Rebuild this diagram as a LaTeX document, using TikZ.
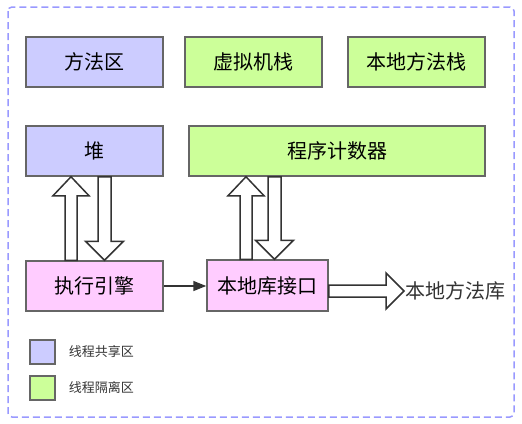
\documentclass[tikz,border=0pt]{standalone}
\usepackage{fontspec}
\setmainfont{Noto Sans CJK SC}
\usetikzlibrary{positioning,arrows.meta}

\definecolor{shared}{HTML}{CCCCFF}
\definecolor{isolated}{HTML}{CCFF99}
\definecolor{engine}{HTML}{FFCCFF}
\definecolor{frame}{HTML}{9999FF}
\definecolor{edge}{HTML}{666666}
\definecolor{ink}{HTML}{333333}

\tikzset{
  area/.style={draw=edge, line width=1.5pt, minimum height=50pt, inner sep=0pt,
    font=\fontsize{20}{22}\selectfont},
  hollow/.style={draw=ink, line width=1.5pt, fill=white, line join=miter},
  swatch/.style={draw=edge, line width=1.5pt, minimum width=25pt, minimum height=24pt, inner sep=0pt},
  note/.style={anchor=west, text=ink, inner sep=0pt, font=\fontsize{13}{15}\selectfont},
}

% hollow arrows: x (or y), tail, tip
\newcommand{\hollowup}[3]{%
  \draw[hollow] (#1-6,0 |- #2) -- ([yshift=-19pt]#1-6,0 |- #3)
    -- ([yshift=-19pt]#1-18,0 |- #3) -- (#1,0 |- #3)
    -- ([yshift=-19pt]#1+18,0 |- #3) -- ([yshift=-19pt]#1+6,0 |- #3)
    -- (#1+6,0 |- #2) -- cycle;}
\newcommand{\hollowdown}[3]{%
  \draw[hollow] (#1-6.5,0 |- #2) -- ([yshift=19pt]#1-6.5,0 |- #3)
    -- ([yshift=19pt]#1-19,0 |- #3) -- (#1,0 |- #3)
    -- ([yshift=19pt]#1+19,0 |- #3) -- ([yshift=19pt]#1+6.5,0 |- #3)
    -- (#1+6.5,0 |- #2) -- cycle;}

\begin{document}
\begin{tikzpicture}[x=1pt, y=-1pt]
\useasboundingbox (0,0) rectangle (522,423);
\draw[frame, line width=1.5pt, dash pattern=on 7pt off 4pt, rounded corners=4pt] (8,7) rectangle (514,417);

% runtime areas
\node[area, fill=shared, minimum width=137pt] (method) at (94.5,62) {方法区};
\node[area, fill=isolated, minimum width=137pt] (vmstack) at (253.5,62) {虚拟机栈};
\node[area, fill=isolated, minimum width=137pt] (nstack) at (416.5,62) {本地方法栈};
\node[area, fill=shared, minimum width=137pt] (heap) at (94.5,151) {堆};
\node[area, fill=isolated, minimum width=296pt] (pc) at (337,151) {程序计数器};
\node[area, fill=engine, minimum width=137pt] (exec) at (94.5,286) {执行引擎};
\node[area, fill=engine, minimum width=121pt, minimum height=51pt] (native) at (267.5,285.5) {本地库接口};
\node[anchor=west, inner sep=1pt, text=ink, font=\fontsize{20}{22}\selectfont] (nlib) at (404,291) {本地方法库};

% connectors
\draw[ink, line width=1.5pt, -{Triangle[length=13pt,width=10pt]}] (exec) -- (native.west |- exec);
\hollowup{71}{exec.north}{heap.south}
\hollowdown{104.5}{heap.south}{exec.north}
\hollowup{246}{native.north}{pc.south}
\hollowdown{274.5}{pc.south}{native.north}
\draw[hollow] (native.east |- 0,285) -- ([xshift=-18pt]nlib.west |- 0,285)
  -- ([xshift=-18pt]nlib.west |- 0,273) -- (nlib.west |- 0,291)
  -- ([xshift=-18pt]nlib.west |- 0,309) -- ([xshift=-18pt]nlib.west |- 0,297)
  -- (native.east |- 0,297) -- cycle;

% legend
\node[swatch, fill=shared] (key1) at (42.5,352) {};
\node[note, right=13pt of key1] (key1text) {线程共享区};
\node[swatch, fill=isolated] (key2) at (42.5,388) {};
\node[note, right=13pt of key2] (key2text) {线程隔离区};
\end{tikzpicture}
\end{document}
